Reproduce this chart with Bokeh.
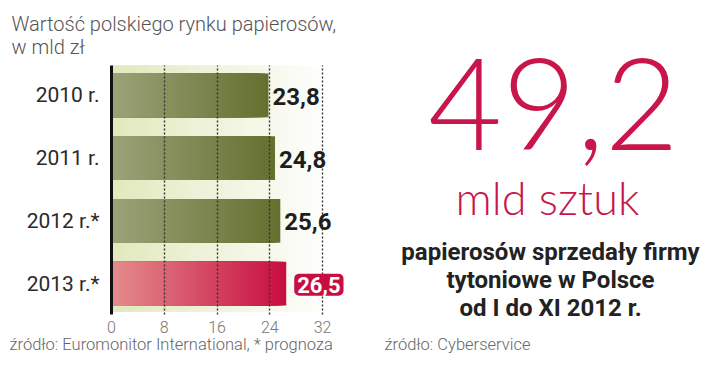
from bokeh.plotting import figure
from bokeh.layouts import row, column
from bokeh.models import ColumnDataSource, Range1d, FixedTicker, Label
from bokeh.embed import file_html
from bokeh.resources import INLINE
from bokeh.core.properties import value

# ---- data ----
years = ["2010 r.", "2011 r.", "2012 r.*", "2013 r.*"]
values = [23.8, 24.8, 25.6, 26.5]
x_ticks = [0, 8, 16, 24, 32]
title_lines = ["Wartość polskiego rynku papierosów,", "w mld zł"]
source_left = "źródło: Euromonitor International, * prognoza"
big_number = "49,2"
big_unit = "mld sztuk"
desc_lines = ["papierosów sprzedały firmy", "tytoniowe w Polsce", "od I do XI 2012 r."]
source_right = "źródło: Cyberservice"

# ---- styles ----
OLIVE = ((157, 163, 122), (101, 112, 48))
CRIMSON = ((228, 142, 142), (200, 14, 64))
BAND = ((226, 232, 188), (255, 255, 255))
RED = "#c8164b"
LIGHT = "Roboto Light"
THIN = "Lato Light"

W, H = 704, 355
LEFT_W = 362
TOP_H = 62           # title strip
BARS_BOTTOM = 335    # bottom of the bar-chart figure (page px)
BASE_SHIFT = 0.345   # empirical em offset of the label baseline

def no_align(f):
    if "frame_align" in f.properties():
        f.frame_align = False
    return f

def lerp(c0, c1, t):
    return "#%02x%02x%02x" % tuple(int(round(a + (b - a) * t)) for a, b in zip(c0, c1))

def text_fig(w, h, x0, y0):
    f = figure(width=w, height=h, x_range=Range1d(x0, x0 + w), y_range=Range1d(y0 + h, y0),
               output_backend="svg", toolbar_location=None,
               x_axis_location=None, y_axis_location=None,
               min_border=0, min_border_left=0, min_border_right=0,
               min_border_top=0, min_border_bottom=0)
    f.grid.visible = False
    f.outline_line_color = None
    f.background_fill_color = "white"
    f.border_fill_color = "white"
    return no_align(f)

def lab(f, txt, X, Y, font, size, color, style="normal", align="left"):
    f.add_layout(Label(x=X, y=Y - BASE_SHIFT * size, text=txt, text_font=font,
                       text_font_size=f"{size}px", text_color=color,
                       text_font_style=style, text_align=align,
                       text_baseline="alphabetic"))

n = len(years)
ypos = [n - 1 - i for i in range(n)]
styles = [OLIVE] * (n - 1) + [CRIMSON]

PX = (322 - 111) / 32.0          # pixels per unit
FRAME_L, FRAME_W = 111, 237
FRAME_T, FRAME_B = 65, 315
Y0, Y1 = -0.492, 3.476
BAR_H = 0.70
BAND_END, BAND_BOTTOM = 34.0, -0.444
N = 48

# gradient bars: layered slices from the full value down to the axis
bars = {"y": [], "right": [], "color": []}
for yi, v, (c0, c1) in zip(ypos, values, styles):
    for k in range(N):
        t = (N - k) / N
        bars["y"].append(yi)
        bars["right"].append(v * t)
        bars["color"].append(lerp(c0, c1, t))

band = {"right": [], "color": []}
for k in range(N):
    t = (N - k) / N
    band["right"].append(BAND_END * t)
    band["color"].append(lerp(BAND[0], BAND[1], t))

bh = BARS_BOTTOM - TOP_H
p = figure(width=LEFT_W, height=bh,
           x_range=Range1d(0, FRAME_W / PX), y_range=Range1d(Y0, Y1),
           output_backend="svg", toolbar_location=None,
           min_border_left=FRAME_L, min_border_right=LEFT_W - FRAME_L - FRAME_W,
           min_border_top=FRAME_T - TOP_H, min_border_bottom=BARS_BOTTOM - FRAME_B)
no_align(p)
p.outline_line_color = None
p.background_fill_color = "white"
p.border_fill_color = "white"

p.quad(left=0, right="right", bottom=BAND_BOTTOM, top=Y1, color="color",
       source=ColumnDataSource(band), line_color=None)
p.hbar(y="y", left=0, right="right", height=BAR_H, color="color",
       source=ColumnDataSource(bars), line_color=None)

# grid
p.ygrid.visible = False
p.xgrid.ticker = FixedTicker(ticks=x_ticks)
p.xgrid.grid_line_color = "#333333"
p.xgrid.grid_line_dash = "2 2"
p.xgrid.grid_line_width = 1.4
p.xgrid.level = "guide"

# axes
p.xaxis.ticker = FixedTicker(ticks=x_ticks)
p.xaxis.axis_line_color = None
p.xaxis.major_tick_line_color = None
p.xaxis.minor_tick_line_color = None
p.xaxis.major_label_standoff = 0
p.xaxis.major_label_text_font = LIGHT
p.xaxis.major_label_text_font_size = "16px"
p.xaxis.major_label_text_color = "#777777"

p.yaxis.ticker = FixedTicker(ticks=ypos)
p.yaxis.major_label_overrides = {yi: t for yi, t in zip(ypos, years)}
p.yaxis.axis_line_color = "#111111"
p.yaxis.axis_line_width = 3
p.yaxis.major_tick_line_color = None
p.yaxis.minor_tick_line_color = None
p.yaxis.major_label_standoff = 6
p.yaxis.major_label_text_font = "Roboto"
p.yaxis.major_label_text_font_size = "21px"
p.yaxis.major_label_text_color = "#2a2a2a"

# value labels
fmt = [f"{v:.1f}".replace(".", ",") for v in values]
plain = ColumnDataSource(dict(x=values[:-1], y=ypos[:-1], t=fmt[:-1]))
boxed = ColumnDataSource(dict(x=values[-1:], y=ypos[-1:], t=fmt[-1:]))
p.text(x="x", y="y", text="t", source=plain, x_offset=4, y_offset=1,
       text_font=value("Roboto"), text_font_style="bold", text_font_size="24px",
       text_color="#1e1e1e", text_baseline="middle", text_align="left", level="annotation")
p.text(x="x", y="y", text="t", source=boxed, x_offset=8, y_offset=1,
       text_font=value("Roboto"), text_font_style="bold", text_font_size="22px",
       text_color="white", text_baseline="middle", text_align="left",
       background_fill_color="#c80e40", border_radius=5, padding=3,
       level="annotation")

# title strip
ft = text_fig(LEFT_W, TOP_H, 0, 0)
lab(ft, title_lines[0], 11, 30, LIGHT, 20, "#555555")
lab(ft, title_lines[1], 11, 53, LIGHT, 20, "#555555")

# footer strip
fb = text_fig(LEFT_W, H - BARS_BOTTOM, 0, BARS_BOTTOM)
lab(fb, source_left, 9, 350, LIGHT, 16.5, "#666666")

# right panel
fr = text_fig(W - LEFT_W, H, LEFT_W, 0)
lab(fr, big_number, 553, 148, THIN, 128, RED, align="center")
lab(fr, big_unit, 547, 213, THIN, 45, RED, align="center")
for txt, Y in zip(desc_lines, [260, 288, 316]):
    lab(fr, txt, 550, Y, "Roboto", 24, "#222222", style="bold", align="center")
lab(fr, source_right, 384, 350, LIGHT, 16.5, "#666666")

layout = row(column(ft, p, fb, spacing=0), fr, spacing=0)
open("out.html", "w").write(file_html(layout, INLINE))
